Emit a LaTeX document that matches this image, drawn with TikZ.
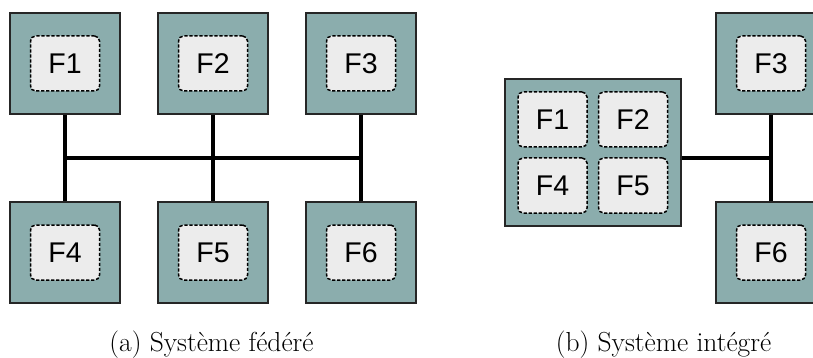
\documentclass[tikz,border=0pt]{standalone}
\usepackage{fontspec}
\newfontfamily\labelfont{Liberation Sans}
\usepackage{tikz}
\usetikzlibrary{positioning}

\definecolor{unitfill}{RGB}{139,173,173}
\definecolor{funcfill}{RGB}{236,236,236}

\begin{document}
\begin{tikzpicture}[x=1pt, y=-1pt,
                    unit/.style={draw=black!85, line width=1.3pt, fill=unitfill, minimum width=110pt, minimum height=101pt, inner sep=0pt},
                    func/.style={draw=black, line width=1.5pt, dash pattern=on 3.2pt off 1.8pt, rounded corners=5pt, fill=funcfill, minimum width=69pt, minimum height=55pt, inner sep=0pt, font=\labelfont\fontsize{28.5}{30}\selectfont},
                    bus/.style={line width=4.6pt, black},
                    caption/.style={anchor=base, font=\fontsize{27.5}{30}\selectfont}]
                \useasboundingbox (0,0) rectangle (813,358);
                \clip (0,0) rectangle (813,358);
                % (a) one unit per function
                \foreach \i/\x/\y in {1/65/63.5, 2/213/63.5, 3/361/63.5, 4/65/252.5, 5/213/252.5, 6/361/252.5}{
                        \node[unit] (u\i) at (\x, \y) {};
                        \node[func] (f\i) at (\x, \y) {F\i};
                    }
                \coordinate (j1) at (65, 158);
                \coordinate (j3) at (361, 158);
                \draw[bus] (j1) -- (j3);
                \foreach \i/\k in {1/4, 2/5, 3/6}{
                        \draw[bus] (u\i.south) -- (u\k.north);
                    }
                \node[caption] (capa) at (211.5, 351) {(a) Système fédéré};

                % (b) shared unit
                \node[unit, minimum width=176pt, minimum height=147pt] (big) at (593, 152.5) {};
                \foreach \i/\x/\y in {1/552.5/119.5, 2/633/119.5, 4/552.5/185.5, 5/633/185.5}{
                        \node[func] (g\i) at (\x, \y) {F\i};
                    }
                \node[unit] (v3) at (771, 63.5) {};
                \node[func] (g3) at (771, 63.5) {F3};
                \node[unit] (v6) at (771, 252.5) {};
                \node[func] (g6) at (771, 252.5) {F6};
                \coordinate (k) at (771, 158);
                \draw[bus] (v3.south) -- (v6.north);
                \draw[bus] (big.east |- k) -- (k);
                \node[caption] (capb) at (663.5, 351) {(b) Système intégré};
            \end{tikzpicture}
\end{document}
